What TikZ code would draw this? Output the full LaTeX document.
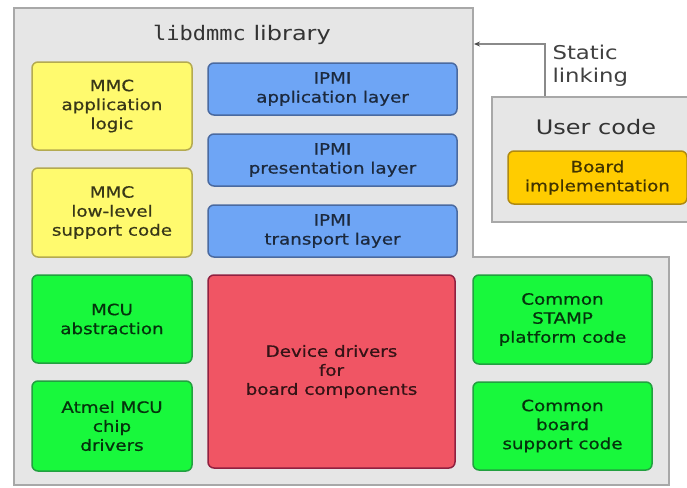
\documentclass[tikz,border=0pt]{standalone}
\usepackage{fontspec}
\setmainfont{DejaVu Sans}[FakeStretch=1.2]
\setmonofont{DejaVu Sans Mono}[FakeStretch=1.1]
\newfontfamily\modulefont{DejaVu Sans}[FakeStretch=1.18, FakeBold=0.7]
\usetikzlibrary{arrows.meta}

\definecolor{libfill}{HTML}{E6E6E6}
\definecolor{libline}{HTML}{A8A8A8}
\definecolor{yfill}{HTML}{FFFA6E}
\definecolor{yline}{HTML}{B4AA50}
\definecolor{bfill}{HTML}{6EA5F5}
\definecolor{bline}{HTML}{4A6AA0}
\definecolor{gfill}{HTML}{18F83C}
\definecolor{gline}{HTML}{22A040}
\definecolor{rfill}{HTML}{F05564}
\definecolor{rline}{HTML}{902040}
\definecolor{ofill}{HTML}{FFCC00}
\definecolor{oline}{HTML}{B08A10}
\definecolor{linkline}{HTML}{8A8A8A}

\tikzset{
  module/.style={draw, line width=1.5pt, rounded corners=6pt, align=center,
    inner sep=0pt, font=\modulefont\fontsize{15.5}{19}\selectfont},
  ybox/.style={module, fill=yfill, draw=yline, text=yfill!22!black},
  bbox/.style={module, fill=bfill, draw=bline, text=bfill!25!black},
  gbox/.style={module, fill=gfill, draw=gline, text=gfill!20!black},
  rbox/.style={module, fill=rfill, draw=rline, text=rfill!22!black},
  obox/.style={module, fill=ofill, draw=oline, text=ofill!25!black},
  grouptitle/.style={text=black!80, font=\fontsize{20}{23}\selectfont},
  linktext/.style={text=black!75, align=left, font=\fontsize{19}{23}\selectfont},
}

\begin{document}
\begin{tikzpicture}[x=1pt, y=-1pt]
\useasboundingbox (0,0) rectangle (687,487);

% library outline (L-shaped)
\draw[fill=libfill, draw=libline, line width=2pt]
  (14,8) -- (473,8) -- (473,257) -- (669,257) -- (669,485) -- (14,485) -- cycle;
\node[grouptitle] (libtitle) at (242,35) {\texttt{libdmmc} library};
\coordinate (libedge) at (474,44);

% user code group
\node[draw=libline, fill=libfill, line width=2pt, minimum width=205pt,
  minimum height=125pt, inner sep=0pt] (user) at (594.5,159.5) {};
\node[grouptitle] (usertitle) at (596,127) {User code};
\node[obox, minimum width=179pt, minimum height=53pt] (board) at (597.5,177.5)
  {Board\\implementation};

% static linking connector
\draw[linkline, line width=1.2pt, -{Stealth[length=6pt, width=5pt, black!70]}]
  (user.north -| 545,0) |- (libedge);
\node[linktext, anchor=north west] (linklabel) at (549,42) {Static\\linking};

% library modules
\node[ybox, minimum width=160pt, minimum height=88pt] (mmcapp) at (112,106)
  {MMC\\application\\logic};
\node[ybox, minimum width=160pt, minimum height=89pt] (mmclow) at (112,212.5)
  {MMC\\low-level\\support code};
\node[bbox, minimum width=249pt, minimum height=52pt] (ipmiapp) at (332.5,89)
  {IPMI\\application layer};
\node[bbox, minimum width=249pt, minimum height=52pt] (ipmipres) at (332.5,160)
  {IPMI\\presentation layer};
\node[bbox, minimum width=249pt, minimum height=52pt] (ipmitrans) at (332.5,231)
  {IPMI\\transport layer};
\node[gbox, minimum width=160pt, minimum height=88pt] (mcu) at (112,319)
  {MCU\\abstraction};
\node[gbox, minimum width=160pt, minimum height=90pt] (atmel) at (112,426)
  {Atmel MCU\\chip\\drivers};
\node[rbox, minimum width=247pt, minimum height=193pt] (drivers) at (331.5,371.5)
  {Device drivers\\for\\board components};
\node[gbox, minimum width=179pt, minimum height=89pt] (stamp) at (562.5,319.5)
  {Common\\STAMP\\platform code};
\node[gbox, minimum width=179pt, minimum height=88pt] (bsp) at (562.5,426)
  {Common\\board\\support code};
\end{tikzpicture}
\end{document}
